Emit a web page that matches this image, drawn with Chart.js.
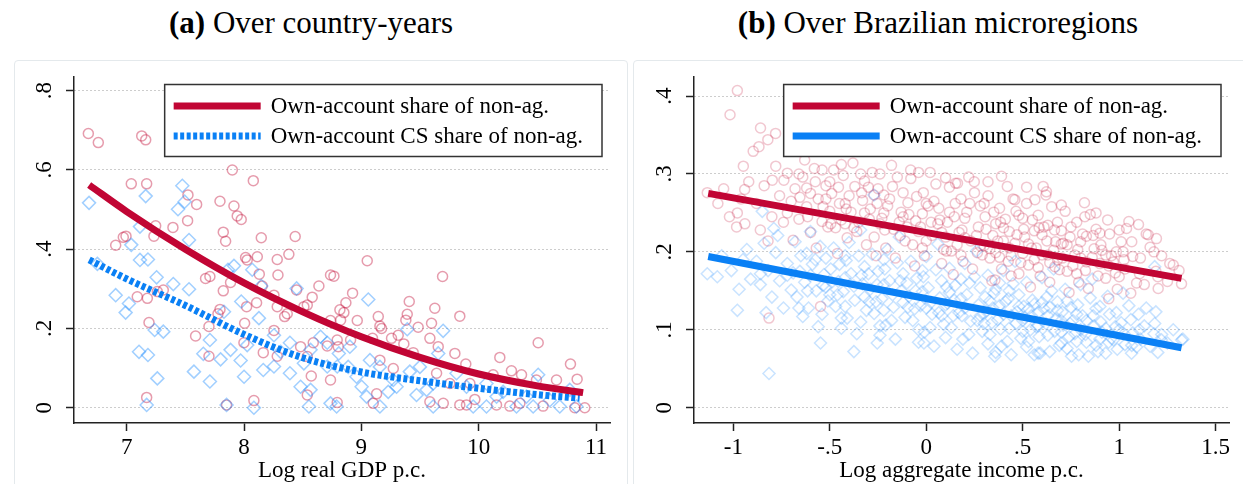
<!DOCTYPE html>
<html><head><meta charset="utf-8">
<script src="https://cdn.jsdelivr.net/npm/chart.js@4.4.1/dist/chart.umd.min.js"></script>
<style>
html,body{margin:0;padding:0;background:#fff;}
#wrap{position:relative;width:1243px;height:484px;overflow:hidden;font-family:"Liberation Serif",serif;}
.frame{position:absolute;top:60px;height:440px;border:1px solid #e4e9ec;border-radius:4px;}
.ttl{position:absolute;top:8px;font-size:31px;line-height:30px;text-align:center;color:#000;white-space:nowrap;}
canvas{position:absolute;top:0;}
</style></head>
<body><div id="wrap">
<div class="frame" style="left:14px;width:612px"></div>
<div class="frame" style="left:633px;width:620px"></div>
<div class="ttl" style="left:14px;width:594px"><b>(a)</b> Over country-years</div>
<div class="ttl" style="left:633px;width:610px"><b>(b)</b> Over Brazilian microregions</div>
<canvas id="c1" width="621" height="484" style="left:0"></canvas>
<canvas id="c2" width="622" height="484" style="left:621px"></canvas>
</div>
<script>
// ---------- tick values & labels ----------
const xTicksL = [7, 8, 9, 10, 11];
const xTickLabelsL = ['7', '8', '9', '10', '11'];
const yTicksL = [0, 0.2, 0.4, 0.6, 0.8];
const yTickLabelsL = ['0', '.2', '.4', '.6', '.8'];
const xTicksR = [-1, -0.5, 0, 0.5, 1, 1.5];
const xTickLabelsR = ['-1', '-.5', '0', '.5', '1', '1.5'];
const yTicksR = [0, 0.1, 0.2, 0.3, 0.4];
const yTickLabelsR = ['0', '.1', '.2', '.3', '.4'];
const seriesNames = ['Own-account share of non-ag.', 'Own-account CS share of non-ag.'];
const xTitleL = 'Log real GDP p.c.';
const xTitleR = 'Log aggregate income p.c.';

// ---------- panel (a): country-years ----------
const leftShare = [[6.673,0.692],[6.758,0.669],[7.128,0.686],[7.162,0.676],
[7.90,0.600],[8.079,0.573],[7.039,0.565],[7.170,0.565],[7.522,0.537],[7.596,0.513],[7.795,0.521],[7.914,0.509],[7.942,0.484],[7.976,0.475],[7.519,0.472],[7.394,0.455],[7.247,0.459],[7.232,0.433],[6.994,0.433],[6.971,0.430],[6.906,0.410],[7.823,0.443],[7.843,0.420],[8.147,0.429],[8.436,0.432],[8.382,0.387],[8.013,0.379],[8.027,0.373],[8.113,0.381],[8.283,0.374],[8.289,0.335],[8.130,0.337],[7.672,0.326],[7.709,0.331],[7.885,0.316],[7.823,0.295],[8.155,0.307],[8.448,0.297],[8.638,0.307],[8.737,0.335],[8.766,0.332],[8.581,0.279],[8.539,0.259],[8.510,0.255],[8.255,0.284],[8.107,0.265],[8.022,0.255],[8.346,0.230],[8.368,0.237],[8.283,0.255],[7.090,0.280],[7.176,0.276],[7.312,0.297],[7.261,0.293],[7.190,0.215],[7.587,0.181],[7.701,0.205],[7.795,0.248],[7.778,0.237],[8.005,0.213],[8.255,0.195],[8.164,0.139],[7.999,0.164],[7.701,0.130],[8.590,0.164],[8.573,0.080],[8.539,0.032],[8.737,0.070],[8.794,0.171],[8.737,0.220],[8.817,0.247],[7.170,0.026],[7.851,0.007],[8.084,0.018],[8.539,0.129],[8.283,0.130],[8.482,0.154],[8.709,0.156],
[9.050,0.371],[9.692,0.331],[8.925,0.289],[8.868,0.265],[8.851,0.240],[8.823,0.221],[8.965,0.220],[9.144,0.230],[9.158,0.206],[9.172,0.200],[9.408,0.268],[9.391,0.236],[9.379,0.221],[9.484,0.203],[9.626,0.251],[9.598,0.213],[9.584,0.175],[9.839,0.231],[9.257,0.175],[9.314,0.183],[9.095,0.175],[8.908,0.171],[8.803,0.154],[9.362,0.161],[9.442,0.139],[9.655,0.154],[9.797,0.137],[9.890,0.110],[10.180,0.127],[10.279,0.093],[10.365,0.083],[10.507,0.164],[10.123,0.083],[10.492,0.070],[10.663,0.070],[10.782,0.110],[10.839,0.072],[9.158,0.120],[9.272,0.099],[9.641,0.087],[9.754,0.061],[9.925,0.061],[9.130,0.035],[9.101,0.011],[9.584,0.015],[9.698,0.011],[9.839,0.007],[9.896,0.007],[9.967,0.021],[10.152,0.007],[10.265,0.004],[10.351,0.011],[10.549,0.004],[10.819,0.0],[10.904,0.0],[8.794,0.013]];

const leftCS = [[6.679,0.517],[7.162,0.534],[7.474,0.560],[7.494,0.520],[7.437,0.501],[7.113,0.457],[7.039,0.411],[7.531,0.423],[7.113,0.373],[7.181,0.374],[6.750,0.363],[7.255,0.329],[7.397,0.312],[7.531,0.299],[6.906,0.284],[7.019,0.263],[6.991,0.240],[7.914,0.358],[7.863,0.348],[8.070,0.348],[8.147,0.307],[7.976,0.268],[7.829,0.242],[8.127,0.226],[8.448,0.301],[7.238,0.196],[7.312,0.192],[7.105,0.141],[7.181,0.133],[7.709,0.171],[7.800,0.122],[7.653,0.136],[7.573,0.091],[7.709,0.066],[7.261,0.074],[8.000,0.078],[7.971,0.119],[7.885,0.146],[8.164,0.095],[8.255,0.104],[8.312,0.141],[8.391,0.164],[8.391,0.087],[8.510,0.112],[8.567,0.146],[8.652,0.179],[8.709,0.164],[8.482,0.053],[8.567,0.045],[8.737,0.011],[8.553,0.003],[7.170,0.007],[8.084,0.0],[7.851,0.007],[8.255,0.183],[8.027,0.158],[8.794,0.104],[8.808,0.137],[8.709,0.104],
[9.059,0.273],[9.697,0.194],[9.391,0.198],[9.655,0.137],[8.902,0.154],[8.888,0.103],[8.959,0.078],[9.073,0.120],[9.158,0.103],[9.272,0.070],[9.300,0.053],[9.413,0.091],[9.499,0.103],[9.556,0.045],[9.612,0.061],[9.811,0.087],[9.896,0.053],[10.066,0.061],[10.208,0.040],[10.507,0.083],[10.776,0.045],[9.044,0.028],[8.789,0.003],[9.158,0.003],[9.612,0.003],[9.953,0.003],[10.066,0.003],[10.322,0.003],[10.464,0.003],[10.691,0.003],[10.833,0.003],[9.470,0.032],[9.002,0.053],[9.229,0.040],[10.152,0.028],[10.407,0.028],[10.606,0.019]];

const leftShareFit = [[6.68,0.562],[7.0,0.495],[7.5,0.400],[8.0,0.315],[8.5,0.242],[9.0,0.179],[9.5,0.127],[10.0,0.085],[10.5,0.055],[10.89,0.038]];
const leftCSFit = [[6.68,0.373],[7.0,0.325],[7.5,0.258],[8.0,0.185],[8.5,0.126],[9.0,0.090],[9.5,0.068],[10.0,0.049],[10.5,0.033],[10.86,0.024]];

// ---------- panel (b): Brazilian microregions ----------
const rightShare = [[-1.135,0.276],[-1.017,0.376],[-0.979,0.407],[-0.948,0.310],[-0.941,0.280],[-0.979,0.250],[-0.983,0.232],[-0.859,0.359],[-0.821,0.344],[-0.781,0.352],[-0.897,0.329],[-0.867,0.335],[-0.815,0.115],[-0.548,0.130],[-0.081,0.305],[-0.271,0.273],[0.152,0.288],[-0.738,0.292],[-0.798,0.292],[0.390,0.297],[0.249,0.290],[0.162,0.288],[0.606,0.284],[0.623,0.277],[0.563,0.267],[0.459,0.267],[0.822,0.245],[1.038,0.230],[1.150,0.222],[1.193,0.217],[1.262,0.185],[1.323,0.159],[1.202,0.153],[0.946,0.140],[0.667,0.181],[0.356,0.164],
[-1.08,0.262],[-1.05,0.281],[-1.02,0.245],[-0.96,0.268],[-0.92,0.29],[-0.94,0.236],
[-0.88,0.262],[-0.84,0.285],[-0.80,0.245],[-0.76,0.272],[-0.72,0.301],[-0.86,0.228],[-0.74,0.238],[-0.70,0.265],[-0.78,0.31],[-0.82,0.214],
[-0.68,0.281],[-0.66,0.242],[-0.64,0.296],[-0.62,0.258],[-0.60,0.225],[-0.58,0.307],[-0.56,0.268],[-0.54,0.239],[-0.52,0.285],[-0.50,0.252],[-0.69,0.215],[-0.63,0.318],[-0.57,0.205],[-0.51,0.232],
[-0.49,0.275],[-0.47,0.231],[-0.45,0.262],[-0.43,0.298],[-0.41,0.218],[-0.39,0.251],[-0.37,0.284],[-0.35,0.238],[-0.33,0.266],[-0.31,0.209],[-0.48,0.305],[-0.44,0.241],[-0.40,0.272],[-0.36,0.226],[-0.32,0.291],[-0.46,0.198],[-0.38,0.314],
[-0.29,0.255],[-0.27,0.219],[-0.25,0.281],[-0.23,0.243],[-0.21,0.205],[-0.19,0.268],[-0.17,0.229],[-0.15,0.296],[-0.13,0.251],[-0.11,0.214],[-0.28,0.302],[-0.24,0.236],[-0.20,0.259],[-0.16,0.192],[-0.12,0.276],[-0.26,0.195],[-0.18,0.311],[-0.14,0.238],
[-0.09,0.248],[-0.07,0.209],[-0.05,0.271],[-0.03,0.232],[-0.01,0.195],[0.01,0.259],[0.03,0.221],[0.05,0.287],[0.07,0.241],[0.09,0.203],[-0.08,0.294],[-0.04,0.226],[0.00,0.214],[0.04,0.265],[0.08,0.185],[-0.06,0.182],[0.02,0.302],[0.06,0.236],[-0.02,0.249],
[0.11,0.238],[0.13,0.201],[0.15,0.262],[0.17,0.225],[0.19,0.188],[0.21,0.251],[0.23,0.214],[0.25,0.276],[0.27,0.232],[0.29,0.196],[0.12,0.283],[0.16,0.209],[0.20,0.243],[0.24,0.178],[0.28,0.259],[0.14,0.171],[0.22,0.296],[0.26,0.221],[0.18,0.268],[0.10,0.219],
[0.31,0.229],[0.33,0.192],[0.35,0.251],[0.37,0.214],[0.39,0.178],[0.41,0.242],[0.43,0.205],[0.45,0.268],[0.47,0.222],[0.49,0.186],[0.32,0.272],[0.36,0.199],[0.40,0.231],[0.44,0.169],[0.48,0.247],[0.34,0.163],[0.42,0.284],[0.46,0.211],[0.38,0.256],[0.30,0.208],[0.44,0.195],[0.36,0.236],
[0.51,0.219],[0.53,0.183],[0.55,0.241],[0.57,0.205],[0.59,0.169],[0.61,0.232],[0.63,0.196],[0.65,0.258],[0.67,0.213],[0.69,0.177],[0.52,0.262],[0.56,0.19],[0.60,0.222],[0.64,0.161],[0.68,0.238],[0.54,0.155],[0.62,0.273],[0.66,0.202],[0.58,0.247],[0.50,0.198],[0.64,0.186],[0.56,0.227],[0.70,0.21],
[0.71,0.211],[0.73,0.175],[0.75,0.232],[0.77,0.196],[0.79,0.161],[0.81,0.223],[0.83,0.187],[0.85,0.248],[0.87,0.204],[0.89,0.169],[0.72,0.252],[0.76,0.182],[0.80,0.213],[0.84,0.153],[0.88,0.229],[0.74,0.148],[0.82,0.263],[0.86,0.193],[0.78,0.238],[0.90,0.185],
[0.91,0.202],[0.93,0.166],[0.95,0.223],[0.97,0.187],[0.99,0.152],[1.01,0.213],[1.03,0.178],[1.05,0.239],[1.07,0.194],[1.09,0.16],[0.94,0.241],[0.98,0.173],[1.02,0.2],[1.06,0.147],[1.00,0.228],[0.96,0.195],
[1.11,0.192],[1.13,0.158],[1.16,0.206],[1.19,0.175],[1.22,0.195],[1.25,0.162],[1.28,0.183],[1.31,0.176],[1.14,0.223],[1.20,0.168],
[-0.655,0.27],[-0.615,0.245],[-0.575,0.29],[-0.535,0.258],[-0.495,0.236],[-0.455,0.283],[-0.415,0.255],[-0.375,0.231],[-0.335,0.276],[-0.295,0.242],[-0.255,0.262],[-0.215,0.228],[-0.175,0.284],[-0.135,0.221],[-0.095,0.263],[-0.055,0.24],[-0.015,0.276],[0.025,0.238],[0.065,0.256],[0.105,0.201],[0.145,0.245],[0.185,0.228],[0.225,0.262],[0.265,0.199],[0.305,0.245],[0.345,0.221],[0.385,0.238],[0.425,0.188],[0.465,0.252],[0.505,0.229],[0.545,0.205],[0.585,0.231],[0.625,0.214],[0.665,0.228],[0.705,0.192],[0.745,0.219],[0.785,0.203],[0.825,0.176],[0.865,0.221],[0.905,0.209],[0.945,0.182],[0.985,0.2],[1.025,0.19],[1.065,0.213],[1.105,0.172],
[-0.6,0.275],[-0.5,0.29],[-0.42,0.236],[-0.3,0.283],[-0.22,0.273],[-0.1,0.232],[0.0,0.262],[0.12,0.251],[0.2,0.218],[0.3,0.262],[0.4,0.214],[0.5,0.243],[0.6,0.196],[0.7,0.227],[0.8,0.192],[0.9,0.224],[1.0,0.168],
[0.33,0.204],[0.43,0.226],[0.53,0.21],[0.63,0.234],[0.73,0.209],[0.83,0.22],[0.93,0.196],[0.58,0.18],[0.68,0.19],[0.78,0.172],[0.48,0.172],[0.38,0.193],[0.28,0.208],[0.18,0.196],[0.08,0.225],[-0.02,0.205],[-0.12,0.245],[-0.22,0.25],[-0.32,0.25],[-0.42,0.262],[-0.52,0.268],[-0.62,0.282],[-0.72,0.25],[-0.66,0.3],[-0.54,0.305],[-0.44,0.312],[-0.34,0.3],[-0.24,0.3],[-0.04,0.302],[0.1,0.295],[0.32,0.29],[0.52,0.283],[0.7,0.26],[0.88,0.25],[1.1,0.235],[1.18,0.2]];

const rightCS = [[-0.815,0.044],[-0.375,0.072],[-0.979,0.125],[-1.135,0.172],[-1.083,0.168],[-0.859,0.172],[-0.850,0.252],[-0.790,0.230],[-0.548,0.083],[-0.254,0.083],[-0.012,0.083],[0.355,0.066],[0.580,0.070],[0.753,0.066],[1.064,0.070],[1.219,0.087],[1.323,0.087],[1.184,0.108],[1.184,0.181],[-0.271,0.273],
[-1.06,0.195],[-1.01,0.176],[-0.97,0.152],[-0.93,0.203],[-0.91,0.165],[-0.95,0.19],
[-0.88,0.188],[-0.86,0.158],[-0.84,0.211],[-0.82,0.176],[-0.80,0.142],[-0.78,0.199],[-0.76,0.163],[-0.74,0.128],[-0.72,0.185],[-0.70,0.151],[-0.83,0.122],[-0.77,0.221],
[-0.69,0.173],[-0.67,0.142],[-0.65,0.195],[-0.63,0.161],[-0.61,0.128],[-0.59,0.184],[-0.57,0.15],[-0.55,0.207],[-0.53,0.171],[-0.51,0.137],[-0.68,0.213],[-0.64,0.117],[-0.60,0.226],[-0.56,0.104],[-0.52,0.192],
[-0.49,0.161],[-0.47,0.13],[-0.45,0.184],[-0.43,0.149],[-0.41,0.115],[-0.39,0.172],[-0.37,0.138],[-0.35,0.195],[-0.33,0.159],[-0.31,0.125],[-0.48,0.205],[-0.44,0.102],[-0.40,0.212],[-0.36,0.095],[-0.32,0.181],[-0.46,0.145],[-0.34,0.228],[-0.42,0.167],
[-0.29,0.152],[-0.27,0.121],[-0.25,0.175],[-0.23,0.14],[-0.21,0.106],[-0.19,0.163],[-0.17,0.129],[-0.15,0.186],[-0.13,0.15],[-0.11,0.116],[-0.28,0.197],[-0.24,0.093],[-0.20,0.203],[-0.16,0.088],[-0.12,0.172],[-0.26,0.136],[-0.14,0.219],[-0.22,0.158],[-0.18,0.112],
[-0.09,0.143],[-0.07,0.112],[-0.05,0.166],[-0.03,0.131],[-0.01,0.097],[0.01,0.154],[0.03,0.12],[0.05,0.177],[0.07,0.141],[0.09,0.107],[-0.08,0.188],[-0.04,0.084],[0.00,0.194],[0.04,0.079],[0.08,0.163],[-0.06,0.127],[0.06,0.21],[-0.02,0.149],[0.02,0.103],[0.10,0.132],
[0.11,0.134],[0.13,0.103],[0.15,0.157],[0.17,0.122],[0.19,0.088],[0.21,0.145],[0.23,0.111],[0.25,0.168],[0.27,0.132],[0.29,0.098],[0.12,0.179],[0.16,0.075],[0.20,0.185],[0.24,0.07],[0.28,0.154],[0.14,0.118],[0.26,0.201],[0.18,0.14],[0.22,0.094],[0.30,0.121],
[0.31,0.124],[0.33,0.094],[0.35,0.147],[0.37,0.113],[0.39,0.079],[0.41,0.136],[0.43,0.102],[0.45,0.159],[0.47,0.123],[0.49,0.089],[0.32,0.17],[0.36,0.071],[0.40,0.176],[0.44,0.068],[0.48,0.145],[0.34,0.109],[0.46,0.188],[0.38,0.131],[0.42,0.085],[0.50,0.112],[0.36,0.152],[0.44,0.118],
[0.51,0.115],[0.53,0.085],[0.55,0.138],[0.57,0.104],[0.59,0.07],[0.61,0.127],[0.63,0.093],[0.65,0.15],[0.67,0.114],[0.69,0.08],[0.52,0.161],[0.56,0.068],[0.60,0.167],[0.64,0.072],[0.68,0.136],[0.54,0.1],[0.66,0.178],[0.58,0.122],[0.62,0.108],[0.70,0.097],[0.56,0.133],[0.64,0.129],
[0.71,0.106],[0.73,0.076],[0.75,0.129],[0.77,0.095],[0.79,0.068],[0.81,0.118],[0.83,0.084],[0.85,0.141],[0.87,0.105],[0.89,0.072],[0.72,0.152],[0.76,0.112],[0.80,0.158],[0.84,0.066],[0.88,0.127],[0.74,0.091],[0.86,0.165],[0.78,0.12],[0.82,0.099],[0.90,0.088],
[0.91,0.097],[0.93,0.07],[0.95,0.12],[0.97,0.087],[0.99,0.075],[1.01,0.109],[1.03,0.081],[1.05,0.131],[1.07,0.096],[1.09,0.078],[0.94,0.143],[0.98,0.104],[1.02,0.147],[1.06,0.113],[0.96,0.089],
[1.11,0.088],[1.13,0.105],[1.16,0.079],[1.19,0.123],[1.22,0.094],[1.25,0.083],[1.28,0.1],[1.33,0.088],[1.14,0.128],[1.2,0.071],
[-0.655,0.175],[-0.615,0.15],[-0.575,0.19],[-0.535,0.157],[-0.495,0.178],[-0.455,0.162],[-0.415,0.189],[-0.375,0.156],[-0.335,0.17],[-0.295,0.136],[-0.255,0.158],[-0.215,0.178],[-0.175,0.145],[-0.135,0.163],[-0.095,0.129],[-0.055,0.15],[-0.015,0.168],[0.025,0.135],[0.065,0.122],[0.105,0.155],[0.145,0.138],[0.185,0.118],[0.225,0.16],[0.265,0.112],[0.305,0.142],[0.345,0.128],[0.385,0.101],[0.425,0.14],[0.465,0.108],[0.505,0.13],[0.545,0.118],[0.585,0.091],[0.625,0.142],[0.665,0.098],[0.705,0.123],[0.745,0.108],[0.785,0.132],[0.825,0.094],[0.865,0.118],[0.905,0.11],[0.945,0.084],[0.985,0.122],[1.025,0.095],[1.065,0.08],[1.105,0.1],
[-0.6,0.17],[-0.5,0.145],[-0.42,0.13],[-0.3,0.172],[-0.22,0.125],[-0.1,0.16],[0.0,0.128],[0.12,0.148],[0.2,0.128],[0.3,0.108],[0.4,0.12],[0.5,0.098],[0.6,0.135],[0.7,0.112],[0.8,0.1],[0.9,0.13],[1.0,0.1],
[0.33,0.137],[0.43,0.15],[0.53,0.127],[0.63,0.118],[0.73,0.137],[0.83,0.112],[0.93,0.102],[0.58,0.105],[0.68,0.125],[0.78,0.085],[0.48,0.13],[0.38,0.16],[0.28,0.118],[0.18,0.165],[0.08,0.118],[-0.02,0.176],[-0.12,0.135],[-0.22,0.19],[-0.32,0.142],[-0.42,0.195],[-0.52,0.155],[-0.62,0.198],[-0.72,0.17],[-0.66,0.128],[-0.54,0.12],[-0.44,0.115],[-0.34,0.11],[-0.24,0.105],[-0.04,0.1],[0.1,0.09],[0.32,0.082],[0.52,0.078],[0.7,0.083],[0.88,0.08],[1.1,0.12],[1.18,0.095]];

const rightShareFit = [[-1.13,0.275],[1.323,0.166]];
const rightCSFit = [[-1.13,0.194],[1.323,0.077]];

// ---------- styling ----------
const RED = '#c10534';
const BLUE = '#0a80f5';
const FONT = 'Liberation Serif';
const pts = a => a.map(p => ({x: p[0], y: p[1]}));

const boxLegend = {
  id: 'boxLegend',
  afterDatasetsDraw(chart) {
    const ctx = chart.ctx, ca = chart.chartArea;
    const items = chart.data.datasets.filter(d => d.inLegend);
    ctx.save();
    ctx.font = '23px "' + FONT + '"';
    const textW = Math.max(...items.map(d => ctx.measureText(d.label).width));
    const padL = 9, sw = 87, gap = 10, padR = 19;
    const w = padL + sw + gap + textW + padR, h = 72;
    const right = ca.right - 8, top = ca.top + 7.5, left = right - w;
    ctx.fillStyle = '#fff';
    ctx.fillRect(left, top, w, h);
    ctx.strokeStyle = '#333'; ctx.lineWidth = 1.5;
    ctx.strokeRect(left, top, w, h);
    items.forEach((d, i) => {
      const cy = top + 21.5 + i * 30;
      ctx.beginPath();
      ctx.setLineDash(d.borderDash || []);
      ctx.strokeStyle = d.borderColor; ctx.lineWidth = d.borderWidth;
      ctx.moveTo(left + padL, cy); ctx.lineTo(left + padL + sw, cy); ctx.stroke();
      ctx.setLineDash([]);
      ctx.fillStyle = '#000'; ctx.textBaseline = 'middle'; ctx.textAlign = 'left';
      ctx.fillText(d.label, left + padL + sw + gap, cy + 1);
    });
    ctx.restore();
  }
};

function makeScales(xr, xt, xl, yr, yt, yl, xTitle, yWidth) {
  return {
    x: {
      type: 'linear', min: xr[0], max: xr[1],
      afterBuildTicks: s => { s.ticks = xt.map(v => ({value: v})); },
      afterFit: s => { s.height = 61; },
      ticks: { callback: (v, i) => xl[i], font: {family: FONT, size: 23}, color: '#000', padding: 3, maxRotation: 0, autoSkip: false },
      grid: { display: true, drawOnChartArea: false, drawTicks: true, tickLength: 8, tickColor: '#222', tickWidth: 1.5, color: '#222' },
      border: { display: true, color: '#222', width: 1.5 },
      title: { display: true, text: xTitle, font: {family: FONT, size: 23, lineHeight: 1}, color: '#000', padding: {top: 0, bottom: 1.5} }
    },
    y: {
      type: 'linear', min: yr[0], max: yr[1],
      afterBuildTicks: s => { s.ticks = yt.map(v => ({value: v})); },
      afterFit: s => { s.width = yWidth; },
      ticks: { callback: (v, i) => yl[i], font: {family: FONT, size: 23}, color: '#000', padding: 12, minRotation: 90, maxRotation: 90, crossAlign: 'center', autoSkip: false },
      grid: { display: true, color: '#9a9a9a', lineWidth: 1, drawTicks: true, tickLength: 8, tickColor: '#222', tickWidth: 1.5 },
      border: { display: true, color: '#222', width: 1.5, dash: [1, 3] }
    }
  };
}

function makeDatasets(share, cs, shareFit, csFit, alpha, csDash, dRad) {
  return [
    { label: seriesNames[0], data: pts(share), pointStyle: 'circle', pointRadius: 5, pointBorderWidth: 1.5,
      pointBorderColor: 'rgba(196,20,60,' + alpha + ')', pointBackgroundColor: 'rgba(0,0,0,0)', showLine: false, order: 3 },
    { label: seriesNames[1], data: pts(cs), pointStyle: 'rectRot', pointRadius: dRad, pointBorderWidth: 1.5,
      pointBorderColor: 'rgba(30,140,255,' + alpha + ')', pointBackgroundColor: 'rgba(0,0,0,0)', showLine: false, order: 2 },
    { label: seriesNames[0], inLegend: true, data: pts(shareFit), showLine: true, pointRadius: 0, borderColor: RED, borderWidth: 7,
      cubicInterpolationMode: 'monotone', fill: false, order: 0 },
    { label: seriesNames[1], inLegend: true, data: pts(csFit), showLine: true, pointRadius: 0, borderColor: BLUE, borderWidth: 7,
      borderDash: csDash, cubicInterpolationMode: 'monotone', fill: false, order: 1 }
  ];
}

const common = {
  responsive: false, animation: false, events: [],
  plugins: { legend: { display: false }, tooltip: { enabled: false } }
};

new Chart(document.getElementById('c1'), {
  type: 'scatter',
  data: { datasets: makeDatasets(leftShare, leftCS, leftShareFit, leftCSFit, 0.42, [4, 2.5], 6.5) },
  options: Object.assign({}, common, {
    layout: { padding: { left: 0, top: 77, right: 11, bottom: 0 } },
    scales: makeScales([6.5508, 11.119], xTicksL, xTickLabelsL, [-0.0386, 0.8346], yTicksL, yTickLabelsL, xTitleL, 74)
  }),
  plugins: [boxLegend]
});

new Chart(document.getElementById('c2'), {
  type: 'scatter',
  data: { datasets: makeDatasets(rightShare, rightCS, rightShareFit, rightCSFit, 0.24, [], 6) },
  options: Object.assign({}, common, {
    layout: { padding: { left: 0, top: 77, right: 14, bottom: 0 } },
    scales: makeScales([-1.2037, 1.569], xTicksR, xTickLabelsR, [-0.0196, 0.4244], yTicksR, yTickLabelsR, xTitleR, 73)
  }),
  plugins: [boxLegend]
});
</script>
</body></html>
